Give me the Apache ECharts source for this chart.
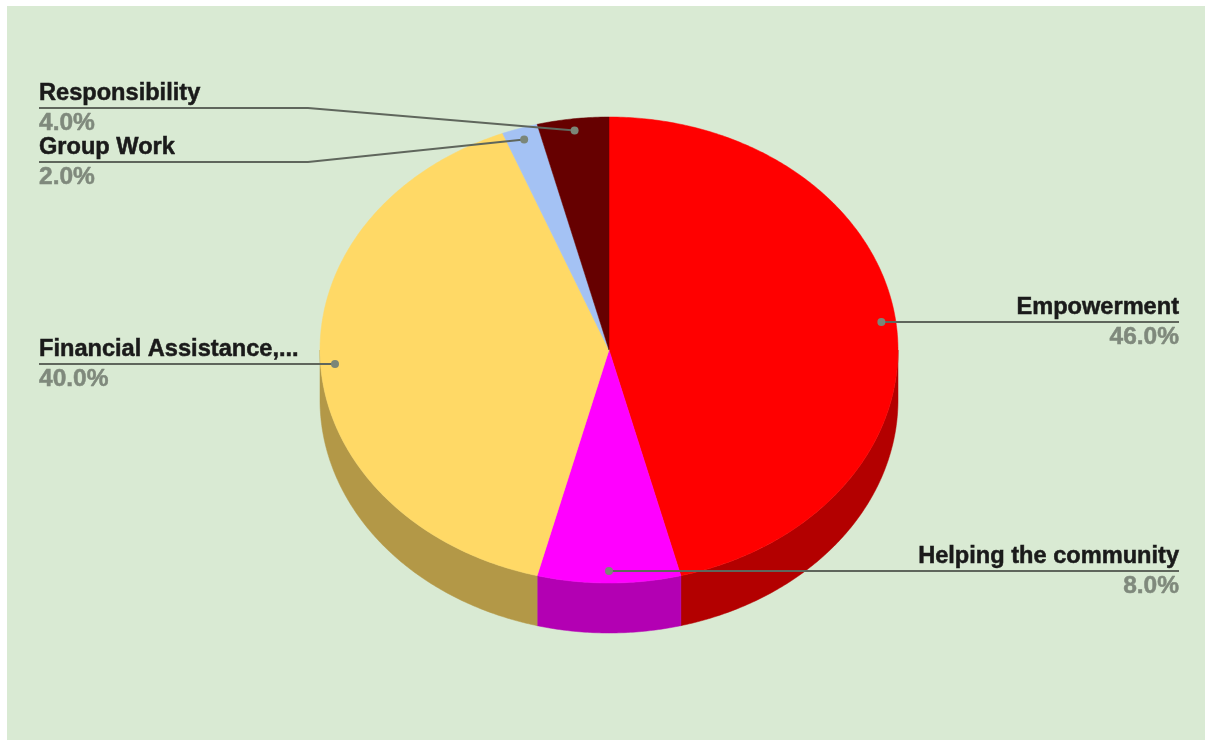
<!DOCTYPE html>
<html>
<head>
<meta charset="utf-8">
<style>html,body{margin:0;padding:0;background:#fff}#chart{width:1205px;height:740px}</style>
<script src="https://cdn.jsdelivr.net/npm/echarts@6/dist/echarts.min.js"></script>
</head>
<body>
<div id="chart"></div>
<script>
const categories = ['Empowerment', 'Helping the community', 'Financial Assistance,...', 'Group Work', 'Responsibility'];
const shares = [46, 8, 40, 2, 4];
const topColors = ['#ff0000', '#ff00ff', '#ffd966', '#a4c2f4', '#660000'];
const sideColors = ['#b30000', '#b300b3', '#b39847', '#7389ab', '#470000'];

const DEPTH = 50, TEXT_LEFT = 39, TEXT_RIGHT = 1179, ELBOW_X = 308, ANCHOR_R = 0.95;
const FONT = '"Liberation Sans", Arial, sans-serif';
const total = shares.reduce((a, b) => a + b, 0);
const starts = [];
shares.reduce((acc, v, i) => { starts[i] = acc; return acc + v; }, 0);
const angleOf = v => v / total * 2 * Math.PI;
const unit = (a, r) => [r * Math.sin(a), r * Math.cos(a)];
function arcPoints(api, a0, a1) {
  const n = Math.max(2, Math.ceil((a1 - a0) / 0.01));
  const pts = [];
  for (let k = 0; k <= n; k++) pts.push(api.coord(unit(a0 + (a1 - a0) * k / n, 1)));
  return pts;
}

function renderSide(params, api) {
  const i = params.dataIndex;
  const a0 = Math.max(angleOf(starts[i]), Math.PI / 2);
  const a1 = Math.min(angleOf(starts[i] + api.value(0)), Math.PI * 1.5);
  if (a1 <= a0) return { type: 'group', children: [] };
  const upper = arcPoints(api, a0, a1);
  const lower = upper.map(p => [p[0], p[1] + DEPTH]).reverse();
  return { type: 'polygon', shape: { points: upper.concat(lower) },
    style: { fill: sideColors[i], stroke: sideColors[i], lineWidth: 0.5 } };
}
function renderTop(params, api) {
  const i = params.dataIndex;
  const a0 = angleOf(starts[i]), a1 = angleOf(starts[i] + api.value(0));
  const pts = [api.coord([0, 0])].concat(arcPoints(api, a0, a1));
  return { type: 'polygon', shape: { points: pts },
    style: { fill: topColors[i], stroke: topColors[i], lineWidth: 0.5 } };
}
function renderLabel(params, api) {
  const i = params.dataIndex, v = api.value(0);
  const mid = angleOf(starts[i] + v / 2);
  const dot = api.coord(unit(mid, ANCHOR_R));
  const onRight = Math.sin(mid) > 0;
  const crowded = !onRight && dot[1] < 200;
  // crowded upper-left labels stack downwards from the top row, outermost angle first
  const lineY = crowded ? 108 + 54 * (categories.length - 1 - i) : Math.round(dot[1]);
  const edgeX = onRight ? TEXT_RIGHT : TEXT_LEFT;
  const pts = crowded ? [[edgeX, lineY], [ELBOW_X, lineY], dot] : [[edgeX, lineY], [dot[0], lineY]];
  const align = onRight ? 'right' : 'left';
  return { type: 'group', children: [
    { type: 'polyline', shape: { points: pts }, style: { fill: null, stroke: '#5f665c', lineWidth: 2 } },
    { type: 'circle', shape: { cx: dot[0], cy: crowded ? dot[1] : lineY, r: 4 }, style: { fill: '#7b8678' } },
    { type: 'text', x: edgeX, y: lineY - 15, style: { text: categories[i], font: 'bold 23.6px ' + FONT, fill: '#1a1a1a', stroke: '#1a1a1a', lineWidth: 0.5, align: align, verticalAlign: 'middle' } },
    { type: 'text', x: edgeX, y: lineY + 15, style: { text: v.toFixed(1) + '%', font: 'bold 24.5px ' + FONT, fill: '#7f897c', stroke: '#7f897c', lineWidth: 0.5, align: align, verticalAlign: 'middle' } }
  ] };
}
const chart = echarts.init(document.getElementById('chart'), null, { renderer: 'canvas' });
const seriesData = shares.map((v, i) => ({ name: categories[i], value: [v] }));
const layer = (name, fn, z) => ({ type: 'custom', name, coordinateSystem: 'cartesian2d', renderItem: fn, data: seriesData, z, clip: false, silent: true, encode: { x: -1, y: -1 } });
chart.setOption({
  animation: false,
  backgroundColor: '#ffffff',
  tooltip: { show: false },
  legend: { show: false },
  graphic: [{ type: 'rect', z: -10, silent: true, shape: { x: 7, y: 6, width: 1198, height: 734 }, style: { fill: '#d9ead3' } }],
  grid: { left: 320, top: 117, width: 578, height: 466, containLabel: false },
  xAxis: { type: 'value', min: -1, max: 1, show: false },
  yAxis: { type: 'value', min: -1, max: 1, show: false },
  series: [layer('side', renderSide, 2), layer('top', renderTop, 3), layer('labels', renderLabel, 4)]
});
</script>
</body>
</html>
